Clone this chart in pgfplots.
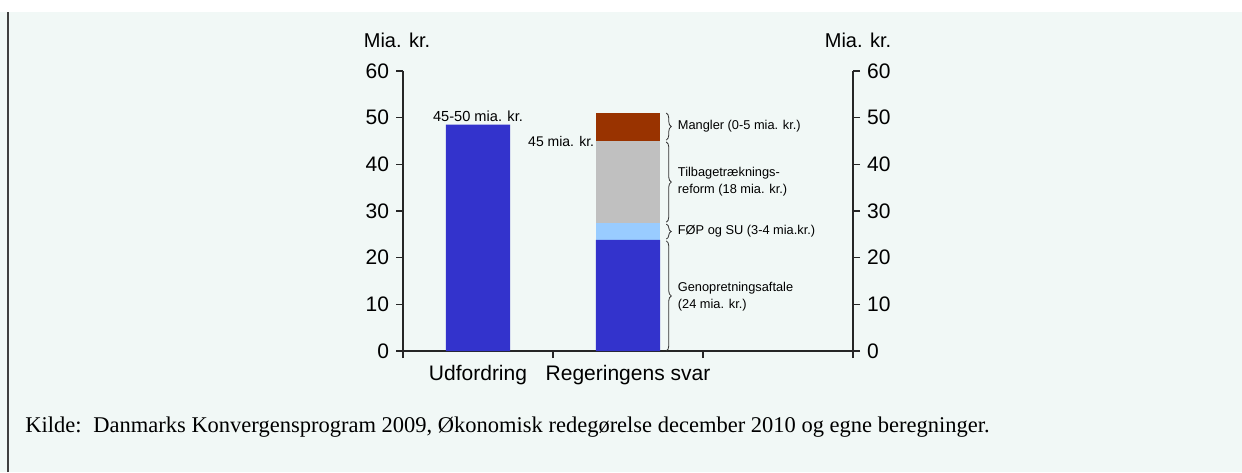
\documentclass[border=0pt]{standalone}
\usepackage{fontspec}
\setmainfont{Liberation Sans}
\newfontfamily\seriffont{Liberation Serif}
\usepackage{pgfplots}
\pgfplotsset{compat=1.18}
\usetikzlibrary{decorations.pathreplacing}
\definecolor{bgmint}{RGB}{241,248,246}
\definecolor{barblue}{RGB}{51,51,204}
\definecolor{lightblue}{RGB}{153,204,255}
\definecolor{bargray}{RGB}{192,192,192}
\definecolor{barbrown}{RGB}{153,51,0}
\tikzset{annot/.style={font=\fontsize{6.4}{7.5}\selectfont, anchor=west, inner sep=0pt}}
\pgfplotsset{myaxis/.style={at={(201.5pt,60.5pt)}, anchor=south west, scale only axis,
  width=225pt, height=140pt,
  xmin=0, xmax=3, ymin=0, ymax=60,
  axis line style={black!85, line width=0.6pt},
  tick style={black!85, line width=0.6pt},
  ytick={0,10,20,30,40,50,60},
  tick align=outside, major tick length=3.5pt,
  tick label style={font=\fontsize{10.5}{12}\selectfont},
  /pgf/number format/assume math mode=true}}
\begin{document}
\begin{tikzpicture}
\useasboundingbox (0,0) rectangle (621pt,236pt);
\fill[white] (0,0) rectangle (621pt,236pt);
\fill[bgmint] (0,0) rectangle (621pt,230pt);
\draw[line width=1pt, black!75] (4pt,0) -- (4pt,230pt);
\node[font=\seriffont\fontsize{11.25}{13}\selectfont, anchor=base west, inner sep=0pt] at (12.5pt,20pt) {Kilde:};
\node[font=\seriffont\fontsize{11.25}{13}\selectfont, anchor=base west, inner sep=0pt] at (46.5pt,20pt) {Danmarks Konvergensprogram 2009, Økonomisk redegørelse december 2010 og egne beregninger.};
\node[font=\fontsize{10}{12}\selectfont] at (198.5pt,216pt) {Mia. kr.};
\node[font=\fontsize{10}{12}\selectfont] at (429pt,216pt) {Mia. kr.};
\begin{axis}[myaxis,
  axis x line*=bottom, axis y line*=left,
  xtick={0,1,2,3}, xticklabels={},
  extra x ticks={0.5,1.5}, extra x tick labels={Udfordring,Regeringens svar},
  extra x tick style={major tick length=0pt, xticklabel style={yshift=-3.5pt}},
  ybar stacked, bar width=0.427,
  clip=false,
]
\addplot[fill=barblue, draw=none] coordinates {(0.5,48.5) (1.5,23.8)};
\addplot[fill=lightblue, draw=none] coordinates {(0.5,0) (1.5,3.6)};
\addplot[fill=bargray, draw=none] coordinates {(0.5,0) (1.5,17.6)};
\addplot[fill=barbrown, draw=none] coordinates {(0.5,0) (1.5,6.0)};
\draw[decorate, decoration={brace,amplitude=2.5pt}, black!80, line width=0.4pt] (axis cs:1.755,51) -- (axis cs:1.755,45.2);
\draw[decorate, decoration={brace,amplitude=2.5pt}, black!80, line width=0.4pt] (axis cs:1.755,44.8) -- (axis cs:1.755,27.6);
\draw[decorate, decoration={brace,amplitude=2.5pt}, black!80, line width=0.4pt] (axis cs:1.755,27.2) -- (axis cs:1.755,24.0);
\draw[decorate, decoration={brace,amplitude=2.5pt}, black!80, line width=0.4pt] (axis cs:1.755,23.6) -- (axis cs:1.755,0);
\node[annot] at (axis cs:1.83,48.1) {Mangler (0-5 mia. kr.)};
\node[annot] at (axis cs:1.83,38.0) {Tilbagetræknings-};
\node[annot] at (axis cs:1.83,34.5) {reform (18 mia. kr.)};
\node[annot] at (axis cs:1.83,25.6) {FØP og SU (3-4 mia.kr.)};
\node[annot] at (axis cs:1.83,13.4) {Genopretningsaftale};
\node[annot] at (axis cs:1.83,9.9) {(24 mia. kr.)};
\node[font=\fontsize{7.3}{9}\selectfont, anchor=south, inner sep=1pt] at (axis cs:0.5,48.6) {45-50 mia. kr.};
\node[font=\fontsize{7}{9}\selectfont, anchor=east, inner sep=1pt] at (axis cs:1.29,44.8) {45 mia. kr.};
\end{axis}
\begin{axis}[myaxis,
  axis x line=none, axis y line*=right,
]
\addplot[draw=none] coordinates {(0,0) (3,60)};
\end{axis}
\end{tikzpicture}
\end{document}
